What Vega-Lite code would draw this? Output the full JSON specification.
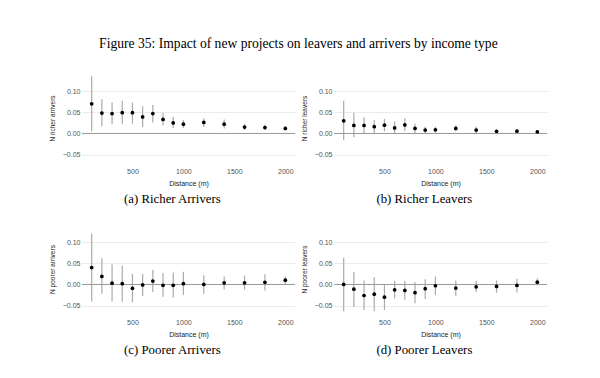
{
  "$schema": "https://vega.github.io/schema/vega-lite/v6.json",
  "background": "white",
  "padding": {"left": 49, "top": 37, "right": 5, "bottom": 5},
  "title": {"text": "Figure 35: Impact of new projects on leavers and arrivers by income type", "font": "Liberation Serif", "fontSize": 13.6, "fontWeight": "normal", "color": "#000000", "anchor": "middle", "offset": 21},
  "datasets": {
    "a": [
      {"d": 100, "est": 0.070, "lo": 0.005, "hi": 0.135},
      {"d": 200, "est": 0.048, "lo": 0.017, "hi": 0.081},
      {"d": 300, "est": 0.047, "lo": 0.022, "hi": 0.073},
      {"d": 400, "est": 0.049, "lo": 0.022, "hi": 0.077},
      {"d": 500, "est": 0.049, "lo": 0.023, "hi": 0.073},
      {"d": 600, "est": 0.039, "lo": 0.015, "hi": 0.064},
      {"d": 700, "est": 0.047, "lo": 0.026, "hi": 0.067},
      {"d": 800, "est": 0.033, "lo": 0.019, "hi": 0.048},
      {"d": 900, "est": 0.025, "lo": 0.013, "hi": 0.039},
      {"d": 1000, "est": 0.022, "lo": 0.013, "hi": 0.032},
      {"d": 1200, "est": 0.026, "lo": 0.015, "hi": 0.036},
      {"d": 1400, "est": 0.022, "lo": 0.012, "hi": 0.033},
      {"d": 1600, "est": 0.015, "lo": 0.008, "hi": 0.022},
      {"d": 1800, "est": 0.014, "lo": 0.008, "hi": 0.021},
      {"d": 2000, "est": 0.012, "lo": 0.007, "hi": 0.017}
    ],
    "b": [
      {"d": 100, "est": 0.030, "lo": -0.016, "hi": 0.077},
      {"d": 200, "est": 0.019, "lo": -0.009, "hi": 0.049},
      {"d": 300, "est": 0.019, "lo": -0.001, "hi": 0.038},
      {"d": 400, "est": 0.016, "lo": 0.001, "hi": 0.032},
      {"d": 500, "est": 0.0195, "lo": 0.005, "hi": 0.034},
      {"d": 600, "est": 0.013, "lo": 0.0, "hi": 0.028},
      {"d": 700, "est": 0.020, "lo": 0.006, "hi": 0.036},
      {"d": 800, "est": 0.012, "lo": 0.001, "hi": 0.023},
      {"d": 900, "est": 0.008, "lo": -0.001, "hi": 0.016},
      {"d": 1000, "est": 0.0086, "lo": 0.002, "hi": 0.016},
      {"d": 1200, "est": 0.012, "lo": 0.005, "hi": 0.0195},
      {"d": 1400, "est": 0.008, "lo": 0.0, "hi": 0.016},
      {"d": 1600, "est": 0.005, "lo": 0.0, "hi": 0.010},
      {"d": 1800, "est": 0.0055, "lo": 0.001, "hi": 0.010},
      {"d": 2000, "est": 0.004, "lo": 0.001, "hi": 0.007}
    ],
    "c": [
      {"d": 100, "est": 0.040, "lo": -0.040, "hi": 0.120},
      {"d": 200, "est": 0.019, "lo": -0.022, "hi": 0.062},
      {"d": 300, "est": 0.003, "lo": -0.040, "hi": 0.047},
      {"d": 400, "est": 0.002, "lo": -0.041, "hi": 0.045},
      {"d": 500, "est": -0.009, "lo": -0.042, "hi": 0.025},
      {"d": 600, "est": -0.001, "lo": -0.027, "hi": 0.025},
      {"d": 700, "est": 0.008, "lo": -0.018, "hi": 0.035},
      {"d": 800, "est": -0.002, "lo": -0.029, "hi": 0.027},
      {"d": 900, "est": -0.002, "lo": -0.031, "hi": 0.028},
      {"d": 1000, "est": 0.002, "lo": -0.025, "hi": 0.030},
      {"d": 1200, "est": 0.0, "lo": -0.022, "hi": 0.022},
      {"d": 1400, "est": 0.004, "lo": -0.011, "hi": 0.019},
      {"d": 1600, "est": 0.004, "lo": -0.012, "hi": 0.021},
      {"d": 1800, "est": 0.005, "lo": -0.014, "hi": 0.024},
      {"d": 2000, "est": 0.010, "lo": 0.001, "hi": 0.019}
    ],
    "dd": [
      {"d": 100, "est": 0.0, "lo": -0.063, "hi": 0.063},
      {"d": 200, "est": -0.011, "lo": -0.053, "hi": 0.030},
      {"d": 300, "est": -0.026, "lo": -0.060, "hi": 0.0095},
      {"d": 400, "est": -0.023, "lo": -0.063, "hi": 0.017},
      {"d": 500, "est": -0.030, "lo": -0.060, "hi": 0.001},
      {"d": 600, "est": -0.0125, "lo": -0.033, "hi": 0.0085},
      {"d": 700, "est": -0.014, "lo": -0.036, "hi": 0.0085},
      {"d": 800, "est": -0.0195, "lo": -0.044, "hi": 0.0055},
      {"d": 900, "est": -0.010, "lo": -0.034, "hi": 0.0125},
      {"d": 1000, "est": -0.003, "lo": -0.025, "hi": 0.019},
      {"d": 1200, "est": -0.0085, "lo": -0.027, "hi": 0.0095},
      {"d": 1400, "est": -0.0055, "lo": -0.018, "hi": 0.0085},
      {"d": 1600, "est": -0.0047, "lo": -0.0195, "hi": 0.0095},
      {"d": 1800, "est": -0.0023, "lo": -0.019, "hi": 0.013},
      {"d": 2000, "est": 0.0055, "lo": 0.001, "hi": 0.014}
    ],
    "zero": [{"z": 0}]
  },
  "spacing": 17,
  "vconcat": [
    {
      "spacing": 5,
      "hconcat": [
        {
          "width": 213, "height": 92,
          "title": {"text": "(a) Richer Arrivers", "orient": "bottom", "frame": "bounds"},
          "layer": [
            {"data": {"name": "a"}, "mark": {"type": "rule", "color": "#ababab", "strokeWidth": 1.2}, "encoding": {"x": {"field": "d", "type": "quantitative", "scale": {"domain": [5, 2095], "nice": false, "zero": false}, "axis": {"title": "Distance (m)", "values": [500, 1000, 1500, 2000], "format": "d"}}, "y": {"field": "lo", "type": "quantitative", "scale": {"domain": [-0.072, 0.145], "nice": false, "zero": false}, "axis": {"title": "N richer arrivers", "tickCount": 4, "format": ".2f"}}, "y2": {"field": "hi"}}},
            {"data": {"name": "zero"}, "mark": {"type": "rule", "color": "#999999", "strokeWidth": 1}, "encoding": {"y": {"field": "z", "type": "quantitative"}}},
            {"data": {"name": "a"}, "mark": {"type": "point", "filled": true, "color": "#000000", "size": 14, "opacity": 1}, "encoding": {"x": {"field": "d", "type": "quantitative"}, "y": {"field": "est", "type": "quantitative"}}}
          ]
        },
        {
          "width": 213, "height": 92,
          "title": {"text": "(b) Richer Leavers", "orient": "bottom", "frame": "bounds"},
          "layer": [
            {"data": {"name": "b"}, "mark": {"type": "rule", "color": "#ababab", "strokeWidth": 1.2}, "encoding": {"x": {"field": "d", "type": "quantitative", "scale": {"domain": [5, 2095], "nice": false, "zero": false}, "axis": {"title": "Distance (m)", "values": [500, 1000, 1500, 2000], "format": "d"}}, "y": {"field": "lo", "type": "quantitative", "scale": {"domain": [-0.072, 0.145], "nice": false, "zero": false}, "axis": {"title": "N richer leavers", "tickCount": 4, "format": ".2f"}}, "y2": {"field": "hi"}}},
            {"data": {"name": "zero"}, "mark": {"type": "rule", "color": "#999999", "strokeWidth": 1}, "encoding": {"y": {"field": "z", "type": "quantitative"}}},
            {"data": {"name": "b"}, "mark": {"type": "point", "filled": true, "color": "#000000", "size": 14, "opacity": 1}, "encoding": {"x": {"field": "d", "type": "quantitative"}, "y": {"field": "est", "type": "quantitative"}}}
          ]
        }
      ]
    },
    {
      "spacing": 5,
      "hconcat": [
        {
          "width": 213, "height": 92,
          "title": {"text": "(c) Poorer Arrivers", "orient": "bottom", "frame": "bounds"},
          "layer": [
            {"data": {"name": "c"}, "mark": {"type": "rule", "color": "#ababab", "strokeWidth": 1.2}, "encoding": {"x": {"field": "d", "type": "quantitative", "scale": {"domain": [5, 2095], "nice": false, "zero": false}, "axis": {"title": "Distance (m)", "values": [500, 1000, 1500, 2000], "format": "d"}}, "y": {"field": "lo", "type": "quantitative", "scale": {"domain": [-0.072, 0.145], "nice": false, "zero": false}, "axis": {"title": "N poorer arrivers", "tickCount": 4, "format": ".2f"}}, "y2": {"field": "hi"}}},
            {"data": {"name": "zero"}, "mark": {"type": "rule", "color": "#999999", "strokeWidth": 1}, "encoding": {"y": {"field": "z", "type": "quantitative"}}},
            {"data": {"name": "c"}, "mark": {"type": "point", "filled": true, "color": "#000000", "size": 14, "opacity": 1}, "encoding": {"x": {"field": "d", "type": "quantitative"}, "y": {"field": "est", "type": "quantitative"}}}
          ]
        },
        {
          "width": 213, "height": 92,
          "title": {"text": "(d) Poorer Leavers", "orient": "bottom", "frame": "bounds"},
          "layer": [
            {"data": {"name": "dd"}, "mark": {"type": "rule", "color": "#ababab", "strokeWidth": 1.2}, "encoding": {"x": {"field": "d", "type": "quantitative", "scale": {"domain": [5, 2095], "nice": false, "zero": false}, "axis": {"title": "Distance (m)", "values": [500, 1000, 1500, 2000], "format": "d"}}, "y": {"field": "lo", "type": "quantitative", "scale": {"domain": [-0.072, 0.145], "nice": false, "zero": false}, "axis": {"title": "N poorer leavers", "tickCount": 4, "format": ".2f"}}, "y2": {"field": "hi"}}},
            {"data": {"name": "zero"}, "mark": {"type": "rule", "color": "#999999", "strokeWidth": 1}, "encoding": {"y": {"field": "z", "type": "quantitative"}}},
            {"data": {"name": "dd"}, "mark": {"type": "point", "filled": true, "color": "#000000", "size": 14, "opacity": 1}, "encoding": {"x": {"field": "d", "type": "quantitative"}, "y": {"field": "est", "type": "quantitative"}}}
          ]
        }
      ]
    }
  ],
  "config": {
    "view": {"stroke": null},
    "axis": {"domain": false, "ticks": false, "labelFont": "Liberation Sans", "labelFontSize": 7, "labelColor": "#555555", "titleFont": "Liberation Sans", "titleFontSize": 7, "titleFontWeight": "normal", "titleColor": "#222222", "labelPadding": 3},
    "axisX": {"grid": false, "titlePadding": 5},
    "axisY": {"grid": true, "gridColor": "#ebebeb", "gridWidth": 1, "titlePadding": 7, "titleFontSize": 6.5, "labelPadding": 2, "labelOverlap": false},
    "title": {"font": "Liberation Serif", "fontSize": 12.8, "fontWeight": "normal", "color": "#000000", "offset": 7, "anchor": "middle"}
  }
}
